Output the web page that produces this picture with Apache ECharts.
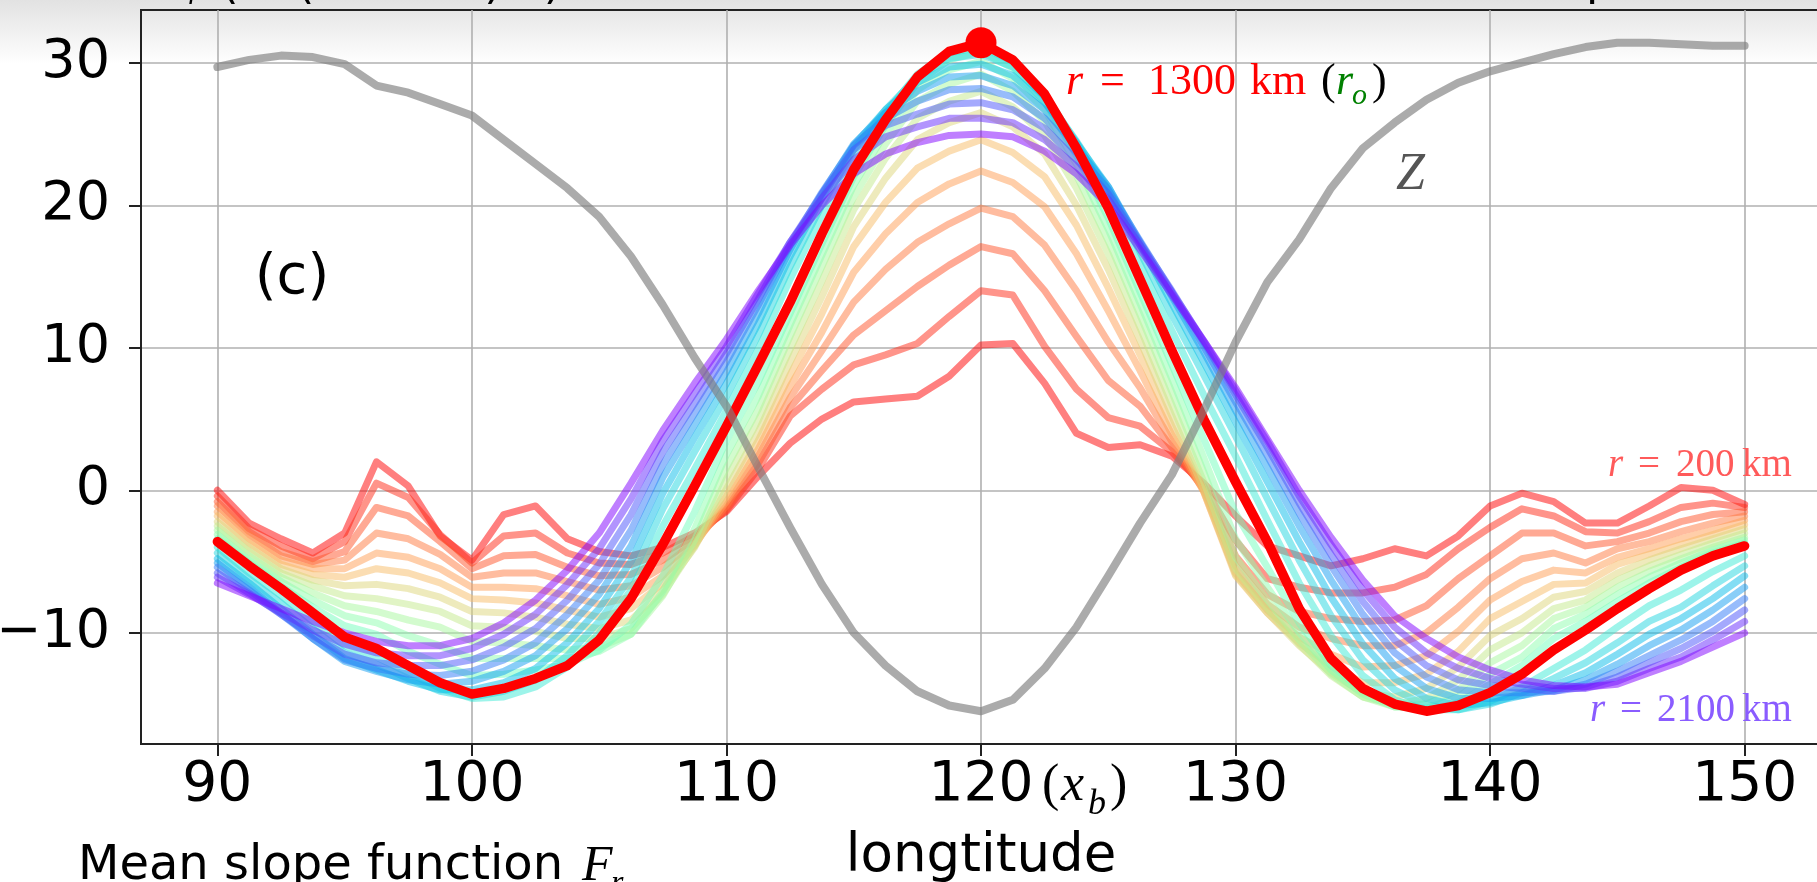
<!DOCTYPE html>
<html><head><meta charset="utf-8">
<script src="https://cdn.jsdelivr.net/npm/echarts@6/dist/echarts.min.js"></script>
<style>html,body{margin:0;padding:0;background:#fff;}#chart{width:1817px;height:882px;}</style>
</head><body><div id="chart"></div>
<script>
// sample longitudes
const longitudes = [90,91.25,92.5,93.75,95,96.25,97.5,98.75,100,101.25,102.5,103.75,105,106.25,107.5,108.75,110,111.25,112.5,113.75,115,116.25,117.5,118.75,120,121.25,122.5,123.75,125,126.25,127.5,128.75,130,131.25,132.5,133.75,135,136.25,137.5,138.75,140,141.25,142.5,143.75,145,146.25,147.5,148.75,150];
const xTicks = [90,100,110,120,130,140,150];
const yTicks = [-10,0,10,20,30];
const radiiKm = [200,300,400,500,600,700,800,900,1000,1100,1200,1300,1400,1500,1600,1700,1800,1900,2000,2100];
const optimalRadius = 1300;

const F_r200 = [0.0,-2.3,-3.4,-4.4,-3.0,2.0,0.3,-3.2,-4.9,-1.7,-1.1,-3.4,-4.3,-4.6,-4.0,-3.0,-1.5,1.0,3.3,5.0,6.2,6.4,6.6,8.0,10.2,10.3,7.5,4.0,3.0,3.2,2.4,0.5,-1.8,-3.9,-4.6,-5.3,-4.8,-4.1,-4.6,-3.2,-1.1,-0.2,-0.8,-2.3,-2.3,-1.1,0.2,0.0,-1.0];
const F_r300 = [-0.4,-2.7,-3.9,-4.8,-3.6,0.5,-0.5,-3.1,-5.1,-3.2,-3.0,-4.4,-5.1,-5.2,-4.4,-3.2,-1.4,1.5,5.2,7.1,8.8,9.5,10.3,12.2,14.0,13.7,10.1,7.1,5.1,4.5,2.7,0.3,-3.5,-6.2,-6.8,-7.2,-7.2,-6.8,-5.9,-4.1,-2.6,-1.3,-1.8,-2.9,-3.0,-2.2,-1.2,-0.9,-1.2];
const F_r400 = [-0.8,-2.9,-4.3,-5.0,-4.3,-1.2,-1.8,-3.6,-5.5,-4.6,-4.5,-5.4,-6.0,-5.9,-4.9,-3.4,-1.3,1.9,5.8,8.4,10.9,12.6,14.3,15.8,17.1,16.6,14.0,10.8,7.7,5.9,3.0,0.1,-4.6,-7.3,-8.5,-9.0,-9.2,-9.1,-8.1,-6.2,-4.6,-3.0,-3.0,-3.9,-3.6,-3.0,-2.2,-1.7,-1.5];
const F_r500 = [-1.1,-3.1,-4.6,-5.2,-4.9,-3.0,-3.4,-4.5,-6.1,-5.8,-5.8,-6.4,-7.0,-6.7,-5.4,-3.6,-1.1,2.4,6.5,9.8,13.2,15.5,17.4,18.7,19.8,19.2,17.2,14.0,10.4,7.2,3.4,0.0,-5.3,-8.0,-9.6,-10.4,-10.9,-10.9,-10.0,-8.2,-6.2,-4.8,-4.4,-5.1,-4.1,-3.6,-2.9,-2.3,-1.8];
const F_r600 = [-1.5,-3.4,-4.9,-5.5,-5.5,-4.4,-4.7,-5.5,-6.8,-6.8,-6.9,-7.4,-8.0,-7.5,-6.0,-3.8,-0.8,2.9,7.3,11.1,15.3,18.0,20.2,21.5,22.4,21.6,19.9,16.6,12.6,8.4,3.9,-0.1,-5.8,-8.4,-10.3,-11.5,-12.4,-12.3,-11.6,-9.9,-7.7,-6.4,-5.6,-5.8,-4.7,-4.1,-3.4,-2.8,-2.1];
const F_r700 = [-1.8,-3.7,-5.2,-5.9,-6.1,-5.5,-5.8,-6.5,-7.6,-7.7,-7.9,-8.4,-8.9,-8.3,-6.5,-3.9,-0.4,3.5,8.1,12.4,17.1,20.2,22.6,23.8,24.6,23.7,22.0,18.6,14.2,9.5,4.5,-0.1,-6.0,-8.6,-10.7,-12.3,-13.5,-13.5,-12.9,-11.3,-9.0,-7.8,-6.6,-6.5,-5.2,-4.5,-3.8,-3.1,-2.4];
const F_r800 = [-2.2,-4.0,-5.5,-6.3,-6.7,-6.6,-6.9,-7.5,-8.5,-8.6,-8.9,-9.4,-9.7,-9.1,-7.0,-4.0,0.1,4.1,9.0,13.6,18.5,21.9,24.6,25.8,26.5,25.5,23.6,20.0,15.5,10.5,5.2,0.1,-5.9,-8.6,-10.9,-12.8,-14.2,-14.5,-13.9,-12.4,-10.2,-9.0,-7.5,-7.1,-5.8,-4.9,-4.1,-3.4,-2.7];
const F_r900 = [-2.5,-4.3,-5.8,-6.7,-7.4,-7.6,-8.0,-8.5,-9.5,-9.6,-9.9,-10.4,-10.4,-9.7,-7.3,-3.9,0.8,4.9,9.9,14.7,19.7,23.3,26.1,27.3,28.0,26.9,24.9,21.2,16.6,11.4,6.0,0.6,-5.5,-8.3,-10.8,-13.0,-14.5,-15.0,-14.6,-13.3,-11.2,-10.0,-8.3,-7.7,-6.3,-5.3,-4.5,-3.7,-3.0];
const F_r1000 = [-2.8,-4.6,-6.1,-7.2,-8.1,-8.5,-9.1,-9.6,-10.6,-10.7,-10.9,-11.2,-11.0,-10.1,-7.4,-3.5,1.6,5.7,10.8,15.7,20.6,24.3,27.3,28.5,29.2,28.0,25.9,22.1,17.5,12.3,6.9,1.3,-4.7,-7.7,-10.5,-12.9,-14.5,-15.2,-15.0,-14.0,-12.1,-10.9,-9.0,-8.2,-6.8,-5.7,-4.8,-4.0,-3.3];
const F_r1100 = [-3.1,-4.9,-6.4,-7.7,-8.8,-9.3,-10.2,-10.9,-11.8,-11.8,-11.8,-11.8,-11.3,-10.1,-7.1,-2.7,2.5,6.6,11.6,16.5,21.4,25.1,28.1,29.5,30.1,28.9,26.7,22.9,18.3,13.1,7.8,2.3,-3.4,-6.8,-10.0,-12.6,-14.3,-15.2,-15.3,-14.5,-12.9,-11.7,-9.7,-8.7,-7.3,-6.1,-5.1,-4.2,-3.5];
const F_r1200 = [-3.4,-5.1,-6.7,-8.2,-9.5,-10.1,-11.3,-12.2,-13.0,-12.9,-12.6,-12.2,-11.2,-9.4,-6.0,-1.5,3.5,7.6,12.4,17.3,22.0,25.6,28.6,30.2,30.8,29.6,27.3,23.5,19.1,13.9,8.8,3.6,-1.6,-5.4,-9.3,-12.3,-14.0,-15.1,-15.5,-14.9,-13.6,-12.3,-10.4,-9.2,-7.8,-6.5,-5.4,-4.4,-3.7];
const F_r1300 = [-3.6,-5.3,-6.9,-8.6,-10.3,-11.1,-12.3,-13.5,-14.3,-13.9,-13.2,-12.3,-10.5,-7.6,-3.8,0.3,4.5,8.8,13.2,18.0,22.5,26.0,29.0,30.8,31.4,30.2,27.8,24.0,19.8,14.8,9.8,5.0,0.6,-3.6,-8.3,-11.8,-13.9,-15.0,-15.5,-15.1,-14.2,-12.9,-11.2,-9.8,-8.3,-6.9,-5.6,-4.6,-3.9];
const F_r1400 = [-4.0,-5.8,-7.4,-9.2,-10.9,-11.7,-12.8,-13.9,-14.6,-14.5,-13.8,-12.4,-10.0,-7.0,-2.5,1.5,5.6,9.9,14.8,19.3,23.3,26.5,29.2,30.7,31.1,30.1,27.8,24.4,20.6,15.9,11.2,6.7,2.4,-2.1,-6.5,-10.2,-13.0,-14.7,-15.4,-15.4,-14.8,-13.8,-12.5,-11.2,-9.6,-8.1,-7.0,-5.7,-4.6];
const F_r1500 = [-4.4,-6.2,-7.9,-9.7,-11.4,-12.2,-13.2,-14.1,-14.5,-14.1,-13.3,-11.6,-9.2,-6.1,-1.3,2.7,6.6,10.9,15.7,20.0,23.9,26.7,29.0,30.3,30.6,29.7,27.6,24.5,21.1,16.7,12.3,8.1,3.8,-0.6,-4.9,-8.8,-11.9,-14.0,-15.1,-15.4,-15.0,-14.2,-13.2,-12.1,-10.7,-9.2,-8.2,-6.7,-5.3];
const F_r1600 = [-4.8,-6.5,-8.3,-10.1,-11.8,-12.6,-13.4,-14.0,-14.0,-13.5,-12.5,-10.7,-8.3,-5.0,-0.2,3.7,7.5,11.7,16.4,20.5,24.2,26.7,28.6,29.7,29.9,29.1,27.2,24.4,21.3,17.2,13.1,9.0,4.8,0.6,-3.6,-7.5,-10.8,-13.2,-14.6,-15.1,-14.9,-14.4,-13.7,-12.8,-11.5,-10.1,-9.0,-7.6,-6.0];
const F_r1700 = [-5.1,-6.8,-8.6,-10.4,-12.0,-12.7,-13.3,-13.6,-13.4,-12.7,-11.6,-9.7,-7.3,-3.9,0.9,4.6,8.3,12.4,16.9,20.8,24.3,26.5,28.0,29.0,29.1,28.4,26.7,24.1,21.3,17.4,13.6,9.7,5.6,1.6,-2.5,-6.3,-9.7,-12.3,-13.9,-14.6,-14.6,-14.4,-14.0,-13.3,-12.2,-10.9,-9.8,-8.4,-6.8];
const F_r1800 = [-5.4,-7.0,-8.7,-10.4,-11.9,-12.5,-12.9,-13.0,-12.7,-11.9,-10.7,-8.7,-6.3,-2.8,1.8,5.4,9.0,13.0,17.2,20.9,24.2,26.1,27.3,28.1,28.2,27.6,26.1,23.7,21.1,17.5,13.9,10.1,6.2,2.4,-1.6,-5.3,-8.7,-11.4,-13.1,-14.0,-14.2,-14.2,-14.1,-13.6,-12.7,-11.6,-10.5,-9.2,-7.6];
const F_r1900 = [-5.8,-7.2,-8.7,-10.2,-11.5,-12.1,-12.3,-12.3,-11.9,-11.0,-9.7,-7.7,-5.2,-1.7,2.7,6.1,9.6,13.4,17.4,20.8,23.9,25.6,26.4,27.1,27.2,26.7,25.4,23.2,20.8,17.4,14.0,10.4,6.7,3.0,-0.9,-4.5,-7.8,-10.5,-12.3,-13.3,-13.7,-13.9,-14.1,-13.8,-13.1,-12.1,-11.1,-9.9,-8.4];
const F_r2000 = [-6.1,-7.3,-8.6,-9.8,-10.8,-11.4,-11.6,-11.6,-11.1,-10.1,-8.7,-6.6,-4.1,-0.6,3.5,6.8,10.1,13.8,17.4,20.5,23.2,24.8,25.5,26.1,26.1,25.8,24.6,22.7,20.4,17.2,13.9,10.5,7.0,3.4,-0.4,-3.8,-7.0,-9.6,-11.4,-12.5,-13.2,-13.6,-13.9,-13.9,-13.4,-12.5,-11.7,-10.5,-9.2];
const F_r2100 = [-6.5,-7.4,-8.3,-9.2,-10.0,-10.6,-10.9,-10.9,-10.4,-9.3,-7.7,-5.6,-3.0,0.5,4.2,7.5,10.6,14.0,17.2,20.0,22.2,23.6,24.4,24.9,25.0,24.8,23.8,22.2,20.0,16.9,13.7,10.5,7.2,3.6,0.0,-3.3,-6.3,-8.8,-10.4,-11.7,-12.6,-13.3,-13.7,-13.8,-13.6,-12.8,-12.0,-11.0,-10.0];
const Z = [29.7,30.2,30.5,30.4,29.9,28.4,27.9,27.1,26.3,24.6,22.9,21.2,19.2,16.4,13.0,9.3,5.9,1.6,-2.6,-6.6,-10.0,-12.3,-14.1,-15.1,-15.5,-14.7,-12.5,-9.6,-6.0,-2.3,1.1,5.6,10.4,14.6,17.6,21.2,24.0,25.8,27.4,28.6,29.4,30.0,30.6,31.1,31.4,31.4,31.3,31.2,31.2];
const peakPoint = [120, 31.4];

const family = [F_r200,F_r300,F_r400,F_r500,F_r600,F_r700,F_r800,F_r900,F_r1000,F_r1100,F_r1200,F_r1300,F_r1400,F_r1500,F_r1600,F_r1700,F_r1800,F_r1900,F_r2000,F_r2100];

// matplotlib "rainbow" colormap
function rainbow(t) {
  const r = Math.min(1, Math.abs(2 * t - 0.5));
  const g = Math.sin(Math.PI * t);
  const b = Math.cos(Math.PI * t / 2);
  return 'rgb(' + Math.round(r * 255) + ',' + Math.round(g * 255) + ',' + Math.round(b * 255) + ')';
}
const pts = vals => longitudes.map((x, i) => [x, vals[i]]);

const series = [];
family.forEach((vals, i) => {
  const t = (radiiKm[radiiKm.length - 1] - radiiKm[i]) / (radiiKm[radiiKm.length - 1] - radiiKm[0]);
  series.push({
    type: 'line', name: 'r=' + radiiKm[i], data: pts(vals), symbol: 'none', silent: true, z: 2,
    lineStyle: { color: rainbow(t), width: 7, opacity: 0.5, cap: 'round', join: 'round' }
  });
});
series.push({
  type: 'line', name: 'r0', data: pts(family[radiiKm.indexOf(optimalRadius)]), symbol: 'none', silent: true, z: 3,
  lineStyle: { color: '#ff0000', width: 9.5, cap: 'round', join: 'round' }
});
series.push({
  type: 'line', name: 'Z', data: pts(Z), symbol: 'none', silent: true, z: 4,
  lineStyle: { color: 'rgba(128,128,128,0.66)', width: 8, cap: 'round', join: 'round' }
});
series.push({
  type: 'scatter', data: [peakPoint], symbolSize: 31, silent: true, z: 5,
  itemStyle: { color: '#ff0000', opacity: 1 }
});

const SANS = '"DejaVu Sans"';
const SERIF = '"Liberation Serif"';
function T(x, y, text, size, fam, color, extra) {
  return Object.assign({ type: 'text', x: x, y: y, z: 20, silent: true,
    style: Object.assign({ text: text, fontSize: size, fontFamily: fam, fill: color, align: 'left', verticalAlign: 'middle' }, (extra && extra.style) || {}) },
    (extra && extra.el) || {});
}
const it = { style: { fontStyle: 'italic' } };
const graphics = [
  { type: 'rect', z: -5, silent: true, shape: { x: 0, y: 0, width: 1817, height: 64 },
    style: { fill: { type: 'linear', x: 0, y: 0, x2: 0, y2: 1, colorStops: [{ offset: 0, color: '#e2e2e2' }, { offset: 1, color: '#ffffff' }] } } },
  T(165, -14, 'F', 45, SANS, '#000'),
  T(188, -4, 'r', 30, SERIF, '#000', it),
  T(221, -14, '(m (100 km)\u207b\u00b9)', 45, SANS, '#000'),
  T(1586, -17, 'p', 45, SANS, '#000'),
  T(292, 278, '(c)', 56, SANS, '#000', { style: { align: 'center' } }),
  // r = 1300 km (r_o)
  T(1066, 82, 'r', 44, SERIF, '#ff0000', it),
  T(1100, 82, '=', 44, SERIF, '#ff0000'),
  T(1148, 82, '1300', 44, SERIF, '#ff0000'),
  T(1250, 82, 'km', 44, SERIF, '#ff0000'),
  T(1321, 82, '(', 44, SERIF, '#000'),
  T(1336, 82, 'r', 44, SERIF, '#008000', it),
  T(1352, 96, 'o', 30, SERIF, '#008000', it),
  T(1372, 82, ')', 44, SERIF, '#000'),
  // Z
  T(1396, 175, 'Z', 52, SERIF, '#555555', it),
  // r = 200 km
  T(1608, 466, 'r', 39, SERIF, '#ff5a5a', it),
  T(1638, 466, '=', 39, SERIF, '#ff5a5a'),
  T(1676, 466, '200', 39, SERIF, '#ff5a5a'),
  T(1742, 466, 'km', 39, SERIF, '#ff5a5a'),
  // r = 2100 km
  T(1590, 711, 'r', 39, SERIF, '#8a5cff', it),
  T(1620, 711, '=', 39, SERIF, '#8a5cff'),
  T(1657, 711, '2100', 39, SERIF, '#8a5cff'),
  T(1742, 711, 'km', 39, SERIF, '#8a5cff'),
  // (x_b)
  T(1042, 786, '(', 52, SERIF, '#000'),
  T(1061, 786, 'x', 52, SERIF, '#000', it),
  T(1088, 805, 'b', 36, SERIF, '#000', it),
  T(1110, 786, ')', 52, SERIF, '#000'),
  // axis title and bottom caption
  T(981, 857, 'longtitude', 53, SANS, '#000', { style: { align: 'center' } }),
  T(78, 867, 'Mean slope function', 48, SANS, '#000'),
  T(582, 867, 'F', 50, SERIF, '#000', it),
  T(611, 884, 'r', 32, SERIF, '#000', it)
];

const axisCommon = {
  axisLine: { show: true, onZero: false, lineStyle: { color: '#222', width: 2 } },
  splitLine: { show: true, lineStyle: { color: '#b0b0b0', width: 1.6 } }
};
const chart = echarts.init(document.getElementById('chart'), null, { renderer: 'canvas' });
chart.setOption({
  animation: false,
  backgroundColor: '#ffffff',
  grid: { left: 141, top: 10, width: 1680, height: 734, containLabel: false, outerBoundsMode: 'none',
          show: true, borderColor: '#222', borderWidth: 2, backgroundColor: 'transparent' },
  xAxis: Object.assign({
    type: 'value', min: 87, max: 153,
    axisTick: { show: true, customValues: xTicks, length: 12, inside: false, lineStyle: { color: '#222', width: 2 } },
    axisLabel: { customValues: xTicks, fontSize: 55, fontFamily: SANS, color: '#000', margin: 14 }
  }, axisCommon),
  yAxis: Object.assign({
    type: 'value', min: -17.8, max: 33.7,
    axisTick: { show: true, customValues: yTicks, length: 12, inside: false, lineStyle: { color: '#222', width: 2 } },
    axisLabel: { customValues: yTicks, fontSize: 54, fontFamily: SANS, color: '#000', margin: 31,
                 formatter: v => (v < 0 ? '\u2212' + (-v) : String(v)) }
  }, axisCommon),
  graphic: { elements: graphics },
  series: series
});
</script></body></html>
